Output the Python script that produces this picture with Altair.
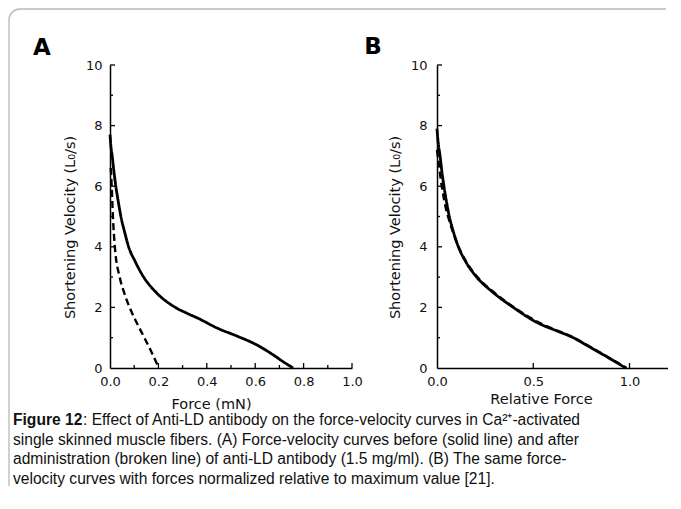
import altair as alt
import pandas as pd

# ---------------- data ----------------
a_solid_force = [0.0, 0.004, 0.009, 0.016, 0.024, 0.034, 0.045, 0.06, 0.077, 0.105, 0.139, 0.19, 0.27, 0.32, 0.364, 0.445, 0.526, 0.607, 0.675, 0.715, 0.757]
a_solid_vel = [7.7, 7.3, 7.0, 6.5, 6.0, 5.5, 5.0, 4.5, 4.0, 3.5, 3.0, 2.5, 2.0, 1.8, 1.64, 1.31, 1.05, 0.76, 0.43, 0.21, 0.0]
a_dash_force = [0.003, 0.007, 0.012, 0.02, 0.04, 0.06, 0.081, 0.11, 0.142, 0.17, 0.202]
a_dash_vel = [6.6, 6.0, 5.0, 4.0, 3.0, 2.45, 2.0, 1.5, 1.0, 0.55, 0.0]

b_solid_force = [0.0, 0.005, 0.016, 0.025, 0.036, 0.049, 0.064, 0.085, 0.111, 0.15, 0.206, 0.29, 0.396, 0.52, 0.62, 0.708, 0.78, 0.847, 0.92, 0.98]
b_solid_vel = [7.9, 7.5, 7.0, 6.5, 6.0, 5.5, 5.0, 4.5, 4.0, 3.5, 3.0, 2.5, 2.0, 1.5, 1.23, 1.0, 0.74, 0.5, 0.23, 0.0]
b_dash_force = [0.0, 0.008, 0.02, 0.03, 0.045, 0.062, 0.085, 0.112, 0.152, 0.21, 0.295, 0.40, 0.53, 0.71, 0.85, 0.985]
b_dash_vel = [7.2, 6.8, 6.2, 5.8, 5.3, 4.9, 4.45, 4.0, 3.5, 3.0, 2.5, 2.0, 1.5, 1.0, 0.5, 0.0]

a_x_labels = [0.0, 0.2, 0.4, 0.6, 0.8, 1.0]
a_x_major = [0.2, 0.4, 0.6, 0.8, 1.0]
a_x_minor = [0.1, 0.3, 0.5, 0.7, 0.9]
b_x_labels = [0.0, 0.5, 1.0]
b_x_major = [0.5, 1.0]
y_labels = [0, 2, 4, 6, 8, 10]
y_major = [2, 4, 6, 8, 10]
y_minor = [1, 3, 5, 7, 9]

panel_letters = ["A", "B"]
x_titles = ["Force (mN)", "Relative Force"]
y_title = "Shortening Velocity (L\u2080/s)"
caption_bold = "Figure 12"
caption_lines = [
    ": Effect of Anti-LD antibody on the force-velocity curves in Ca\u00b2\u207a-activated",
    "single skinned muscle fibers. (A) Force-velocity curves before (solid line) and after",
    "administration (broken line) of anti-LD antibody (1.5 mg/ml). (B) The same force-",
    "velocity curves with forces normalized relative to maximum value [21].",
]

FONT = "DejaVu Sans"
CAP_FONT = "Liberation Sans"
H = 303


def curves(sf, sv, df_, dv):
    a = pd.DataFrame({"x": sf, "y": sv, "s": "solid", "i": range(len(sf))})
    b = pd.DataFrame({"x": df_, "y": dv, "s": "dashed", "i": range(len(df_))})
    return pd.concat([a, b], ignore_index=True)


def panel(data, xdom, xlabels, xfmt, xtitle, x_major, x_minor, letter, letter_pos,
          width, label_pad_y, title_x_y, title_y_x, title_y_x_pos):
    xs = alt.Scale(domain=xdom, nice=False, zero=False)
    ys = alt.Scale(domain=[0, 10], nice=False)
    xaxis = alt.Axis(values=xlabels, format=xfmt, title=xtitle, ticks=False, grid=False,
                     labelFlush=False, labelPadding=7, titleX=title_x_y[0], titleY=title_x_y[1],
                     titleBaseline="middle", titleAlign="center")
    yaxis = alt.Axis(values=y_labels, format="d", title=y_title, ticks=False, grid=False,
                     labelFlush=False, labelPadding=label_pad_y, titleX=title_y_x_pos, titleY=title_y_x,
                     titleBaseline="middle", titleAngle=270, titleAlign="center")
    lines = alt.Chart(data).mark_line(color="black", strokeCap="butt", interpolate="monotone").encode(
        x=alt.X("x:Q", scale=xs, axis=xaxis),
        y=alt.Y("y:Q", scale=ys, axis=yaxis),
        strokeDash=alt.StrokeDash("s:N", scale=alt.Scale(domain=["solid", "dashed"],
                                                         range=[[1, 0], [7, 4]]), legend=None),
        strokeWidth=alt.StrokeWidth("s:N", scale=alt.Scale(domain=["solid", "dashed"],
                                                           range=[2.8, 2.4]), legend=None),
        order="i:Q",
    )
    layers = [lines]
    xmaj = alt.Chart(pd.DataFrame({"x": x_major})).mark_rule(color="black", strokeWidth=1.3).encode(
        x=alt.X("x:Q", scale=xs, axis=xaxis), y=alt.value(H), y2=alt.value(H - 5))
    layers.append(xmaj)
    if x_minor:
        xmin = alt.Chart(pd.DataFrame({"x": x_minor})).mark_rule(color="black", strokeWidth=1.3).encode(
            x=alt.X("x:Q", scale=xs, axis=xaxis), y=alt.value(H), y2=alt.value(H - 3))
        layers.append(xmin)
    ymaj = alt.Chart(pd.DataFrame({"y": y_major})).mark_rule(color="black", strokeWidth=1.3).encode(
        y=alt.Y("y:Q", scale=ys, axis=yaxis), x=alt.value(0), x2=alt.value(5))
    ymin = alt.Chart(pd.DataFrame({"y": y_minor})).mark_rule(color="black", strokeWidth=1.3).encode(
        y=alt.Y("y:Q", scale=ys, axis=yaxis), x=alt.value(0), x2=alt.value(3))
    let = alt.Chart(pd.DataFrame({"t": [letter]})).mark_text(
        font=FONT, fontSize=23, fontWeight="bold", color="black", align="center", baseline="middle"
    ).encode(text="t:N", x=alt.value(letter_pos[0]), y=alt.value(letter_pos[1]))
    layers += [ymaj, ymin, let]
    return alt.layer(*layers).properties(width=width, height=H)


pa = panel(curves(a_solid_force, a_solid_vel, a_dash_force, a_dash_vel), [0, 1.0], a_x_labels, ".1f",
           x_titles[0], a_x_major, a_x_minor, panel_letters[0], (-68, -17), 242, 8, (101, 36), 162, -40)
pb = panel(curves(b_solid_force, b_solid_vel, b_dash_force, b_dash_vel), [0, 1.2], b_x_labels, ".1f",
           x_titles[1], b_x_major, [], panel_letters[1], (-64, -18), 231, 10, (104, 31), 162, -42)

# caption + frame (caption cell origin is at page x=110, y=400)
OX, OY = 110, 400
CX = 13 - OX
FR = "#b8b8b8"
one = pd.DataFrame({"a": [0]})
frame_top = alt.Chart(one).mark_rule(color=FR, strokeWidth=1.3).encode(
    x=alt.value(20 - OX), x2=alt.value(666 - OX), y=alt.value(9 - OY))
frame_left = alt.Chart(one).mark_rule(color=FR, strokeWidth=1.3).encode(
    x=alt.value(9 - OX), y=alt.value(20 - OY), y2=alt.value(486 - OY))
frame_corner = alt.Chart(one).mark_arc(color=FR, radius=11.65, radius2=10.35,
                                       theta=4.7124, theta2=6.2832).encode(
    x=alt.value(20 - OX), y=alt.value(20 - OY))

cap_layers = [frame_top, frame_left, frame_corner]
cap_layers.append(alt.Chart(pd.DataFrame({"t": [caption_bold]})).mark_text(
    font=CAP_FONT, fontSize=15.6, fontWeight="bold", align="left", baseline="middle", color="#111"
).encode(text="t:N", x=alt.value(CX), y=alt.value(20)))
cap_ys = [20, 39.5, 59, 78.5]
cap_xs = [CX + 70, CX, CX, CX]
for k, line in enumerate(caption_lines):
    cap_layers.append(alt.Chart(pd.DataFrame({"t": [line]})).mark_text(
        font=CAP_FONT, fontSize=15.6, align="left", baseline="middle", color="#111"
    ).encode(text="t:N", x=alt.value(cap_xs[k]), y=alt.value(cap_ys[k])))
caption = alt.layer(*cap_layers).properties(width=200, height=70)

chart = alt.concat(pa, pb, caption, columns=2, bounds="flush",
                   spacing={"row": 32, "column": 85}).properties(
    padding={"left": 0, "top": 0, "right": 0, "bottom": 0}
).configure(background="white").configure_view(strokeWidth=0).configure_axis(
    grid=False, domainColor="black", domainWidth=1.5, labelFont=FONT, labelFontSize=13, labelColor="#111",
    titleFont=FONT, titleFontSize=14.5, titleFontWeight="normal", titleColor="#111"
)

chart.save("out.html", embed_options={"renderer": "svg", "actions": False})
